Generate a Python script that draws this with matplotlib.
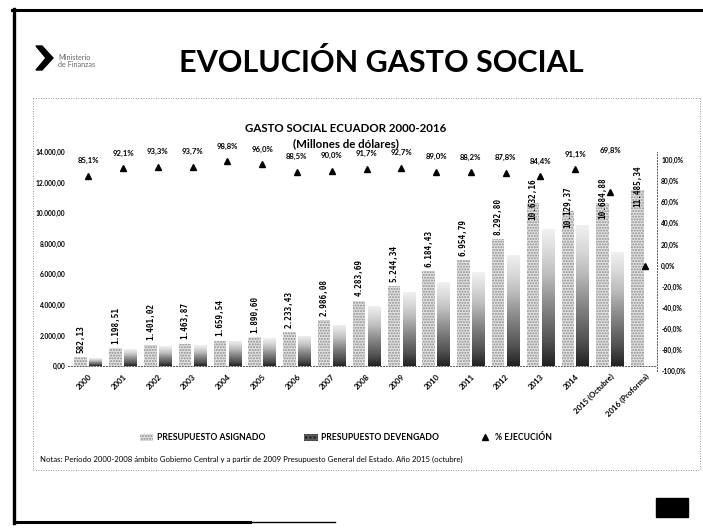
import matplotlib
matplotlib.use("Agg")
import matplotlib.pyplot as plt
import numpy as np
from matplotlib.lines import Line2D
from matplotlib.patches import Patch, Polygon, Rectangle
from matplotlib.ticker import FuncFormatter

# ---------------- data ----------------
categories = ["2000", "2001", "2002", "2003", "2004", "2005", "2006", "2007",
              "2008", "2009", "2010", "2011", "2012", "2013", "2014",
              "2015 (Octubre)", "2016 (Proforma)"]
asignado = [582.13, 1198.51, 1401.02, 1463.87, 1659.54, 1890.60, 2233.43,
            2986.08, 4283.69, 5244.34, 6184.43, 6954.79, 8292.80, 10632.16,
            10129.37, 10684.88, 11485.34]
devengado = [495, 1104, 1307, 1372, 1640, 1815, 1977, 2687, 3928, 4861,
             5504, 6134, 7281, 8973, 9228, 7458, 0]
ejecucion = [85.1, 92.1, 93.3, 93.7, 98.8, 96.0, 88.5, 90.0, 91.7, 92.7,
             89.0, 88.2, 87.8, 84.4, 91.1, 69.8, 0.0]
left_ticks = [0, 2000, 4000, 6000, 8000, 10000, 12000, 14000]
right_ticks = [-100, -80, -60, -40, -20, 0, 20, 40, 60, 80, 100]

W, H = 703, 529
FONT = ["Lato", "DejaVu Sans"]
plt.rcParams["font.family"] = FONT


def es_num(v, dec=2):
    s = f"{v:,.{dec}f}"
    return s.replace(",", "X").replace(".", ",").replace("X", ".")


def fx(px):
    return px / W


def fy(py):
    return 1 - py / H


fig = plt.figure(figsize=(W / 100, H / 100), dpi=100)
fig.patch.set_facecolor("white")

# ---------------- slide decorations ----------------
fig.add_artist(Line2D([fx(12), fx(703)], [fy(10), fy(10)], color="black", lw=2.2))
fig.add_artist(Line2D([fx(14), fx(14)], [fy(9), fy(523)], color="black", lw=2.4))
fig.add_artist(Line2D([fx(14), fx(250)], [fy(522), fy(522)], color="black", lw=2.2))
fig.add_artist(Line2D([fx(250), fx(335)], [fy(522), fy(522)], color="black", lw=1.0))

# chart dotted border
for (x0, y0, x1, y1) in [(33, 98, 700, 98), (33, 98, 33, 470), (33, 470, 700, 470),
                         (700, 98, 700, 470)]:
    fig.add_artist(Line2D([fx(x0), fx(x1)], [fy(y0), fy(y1)], color="#777777",
                          lw=0.6, ls=(0, (1, 2))))

# logo
logo = Polygon([(fx(36), fy(46)), (fx(42), fy(46)), (fx(53), fy(58)),
                (fx(42), fy(70)), (fx(36), fy(70)), (fx(46), fy(58))],
               closed=True, color="black", transform=fig.transFigure)
fig.add_artist(logo)
fig.text(fx(58), fy(61), "Ministerio\nde Finanzas", fontsize=5.2, color="#666666",
         va="center", ha="left", linespacing=1.0)

fig.text(fx(381), fy(62), "EVOLUCIÓN GASTO SOCIAL", fontsize=22, fontweight="bold",
         ha="center", va="center", color="black")

fig.add_artist(Rectangle((fx(656), fy(517)), fx(32), 19 / H, color="black",
                         transform=fig.transFigure))

# chart titles
fig.text(fx(346), fy(129), "GASTO SOCIAL ECUADOR 2000-2016", fontsize=8.3,
         fontweight="bold", ha="center", va="center")
fig.text(fx(346), fy(144), "(Millones de dólares)", fontsize=8.3,
         fontweight="bold", ha="center", va="center")

# ---------------- axes ----------------
ax = fig.add_axes([fx(68), fy(371), fx(657 - 68), (371 - 152) / H])
ax2 = ax.twinx()
x = np.arange(len(categories))
bw = 0.36
off = 0.215

for s in ["top", "left", "right"]:
    ax.spines[s].set_visible(False)
ax.spines["bottom"].set_position(("data", 0))
ax.spines["bottom"].set_linestyle((0, (1, 2)))
ax.spines["bottom"].set_color("#555555")
ax.spines["bottom"].set_linewidth(0.7)

b1 = ax.bar(x - off, asignado, bw, color="#e4e4e4", edgecolor="#8c8c8c",
            hatch="......", lw=0, zorder=2)
b2 = ax.bar(x + off, devengado, bw, color="#4a4a4a", lw=0, zorder=2)

# gradient on devengado bars
grad = np.linspace(0, 1, 256).reshape(-1, 1)
for rect in b2:
    h = rect.get_height()
    if h <= 0:
        continue
    x0 = rect.get_x()
    wdt = rect.get_width()
    im = ax.imshow(grad, cmap="Greys", vmin=-0.15, vmax=1.15, aspect="auto",
                   extent=(x0, x0 + wdt, 0, h), origin="upper", zorder=3)
    im.set_clip_path(rect)
    rect.set_facecolor("none")
    rect.set_hatch("....")
    rect.set_edgecolor("#111111")

ax.set_xlim(-0.58, 16.35)
ax.set_ylim(-327, 14000)
ax.set_yticks(left_ticks)
ax.yaxis.set_major_formatter(FuncFormatter(lambda v, p: es_num(v)))
ax.set_xticks(x)
ax.set_xticklabels(categories, rotation=45, ha="right", rotation_mode="anchor",
                   fontsize=5.6, fontweight="bold")
ax.tick_params(axis="x", length=0, pad=5)
ax.tick_params(axis="y", length=0, labelsize=4.8, pad=2)
for lab in ax.get_yticklabels():
    lab.set_fontweight("bold")
ax.set_facecolor("none")

# value labels (the tallest bars carry their label overlapping the bar top)
for rect, v in zip(b1, asignado):
    dy = -12 if v > 9000 else 3
    ax.annotate(es_num(v), (rect.get_x() + rect.get_width() / 2, rect.get_height()),
                xytext=(0, dy), textcoords="offset points", rotation=90,
                ha="center", va="bottom", fontsize=5.6, fontweight="bold",
                family="DejaVu Sans Mono", zorder=5)

# % ejecución
ax2.plot(x, ejecucion, ls="none", marker="^", color="black", markersize=5, zorder=6)
ax2.set_ylim(-100, 107.6)
ax2.set_yticks(right_ticks)
ax2.yaxis.set_major_formatter(FuncFormatter(lambda v, p: es_num(v, 1) + "%"))
ax2.tick_params(axis="y", length=0, labelsize=4.8, pad=3)
for lab in ax2.get_yticklabels():
    lab.set_fontweight("bold")
for s in ["top", "left", "bottom"]:
    ax2.spines[s].set_visible(False)
ax2.spines["right"].set_linestyle((0, (1, 2)))
ax2.spines["right"].set_color("#555555")
ax2.spines["right"].set_linewidth(0.7)

for i, p in enumerate(ejecucion):
    if devengado[i] <= 0:
        continue
    if p > 80:
        ax2.annotate(es_num(p, 1) + "%", (i, p), xytext=(0, 11),
                     textcoords="offset points", ha="center", va="center",
                     fontsize=5.6, fontweight="bold", annotation_clip=False)
    else:
        ax2.text(i, 109, es_num(p, 1) + "%", ha="center", va="center",
                 fontsize=5.6, fontweight="bold", clip_on=False)

# legend
handles = [Patch(facecolor="#e4e4e4", edgecolor="#8c8c8c", hatch="......", lw=0),
           Patch(facecolor="#5a5a5a", edgecolor="#111111", hatch="....", lw=0),
           Line2D([], [], ls="none", marker="^", color="black", markersize=4)]
labels = ["PRESUPUESTO ASIGNADO", "PRESUPUESTO DEVENGADO", "% EJECUCIÓN"]
leg = fig.legend(handles, labels, loc="center", bbox_to_anchor=(fx(346), fy(438)),
                 ncol=3, frameon=False, fontsize=6.2, columnspacing=4.5,
                 handlelength=1.6, handleheight=0.8, handletextpad=0.4)
for t in leg.get_texts():
    t.set_fontweight("bold")

fig.text(fx(40), fy(459), "Notas: Período 2000-2008 ámbito Gobierno Central y a partir de "
         "2009 Presupuesto General del Estado. Año 2015 (octubre)", fontsize=5.6,
         ha="left", va="center")

fig.savefig("out.png", dpi=100)
